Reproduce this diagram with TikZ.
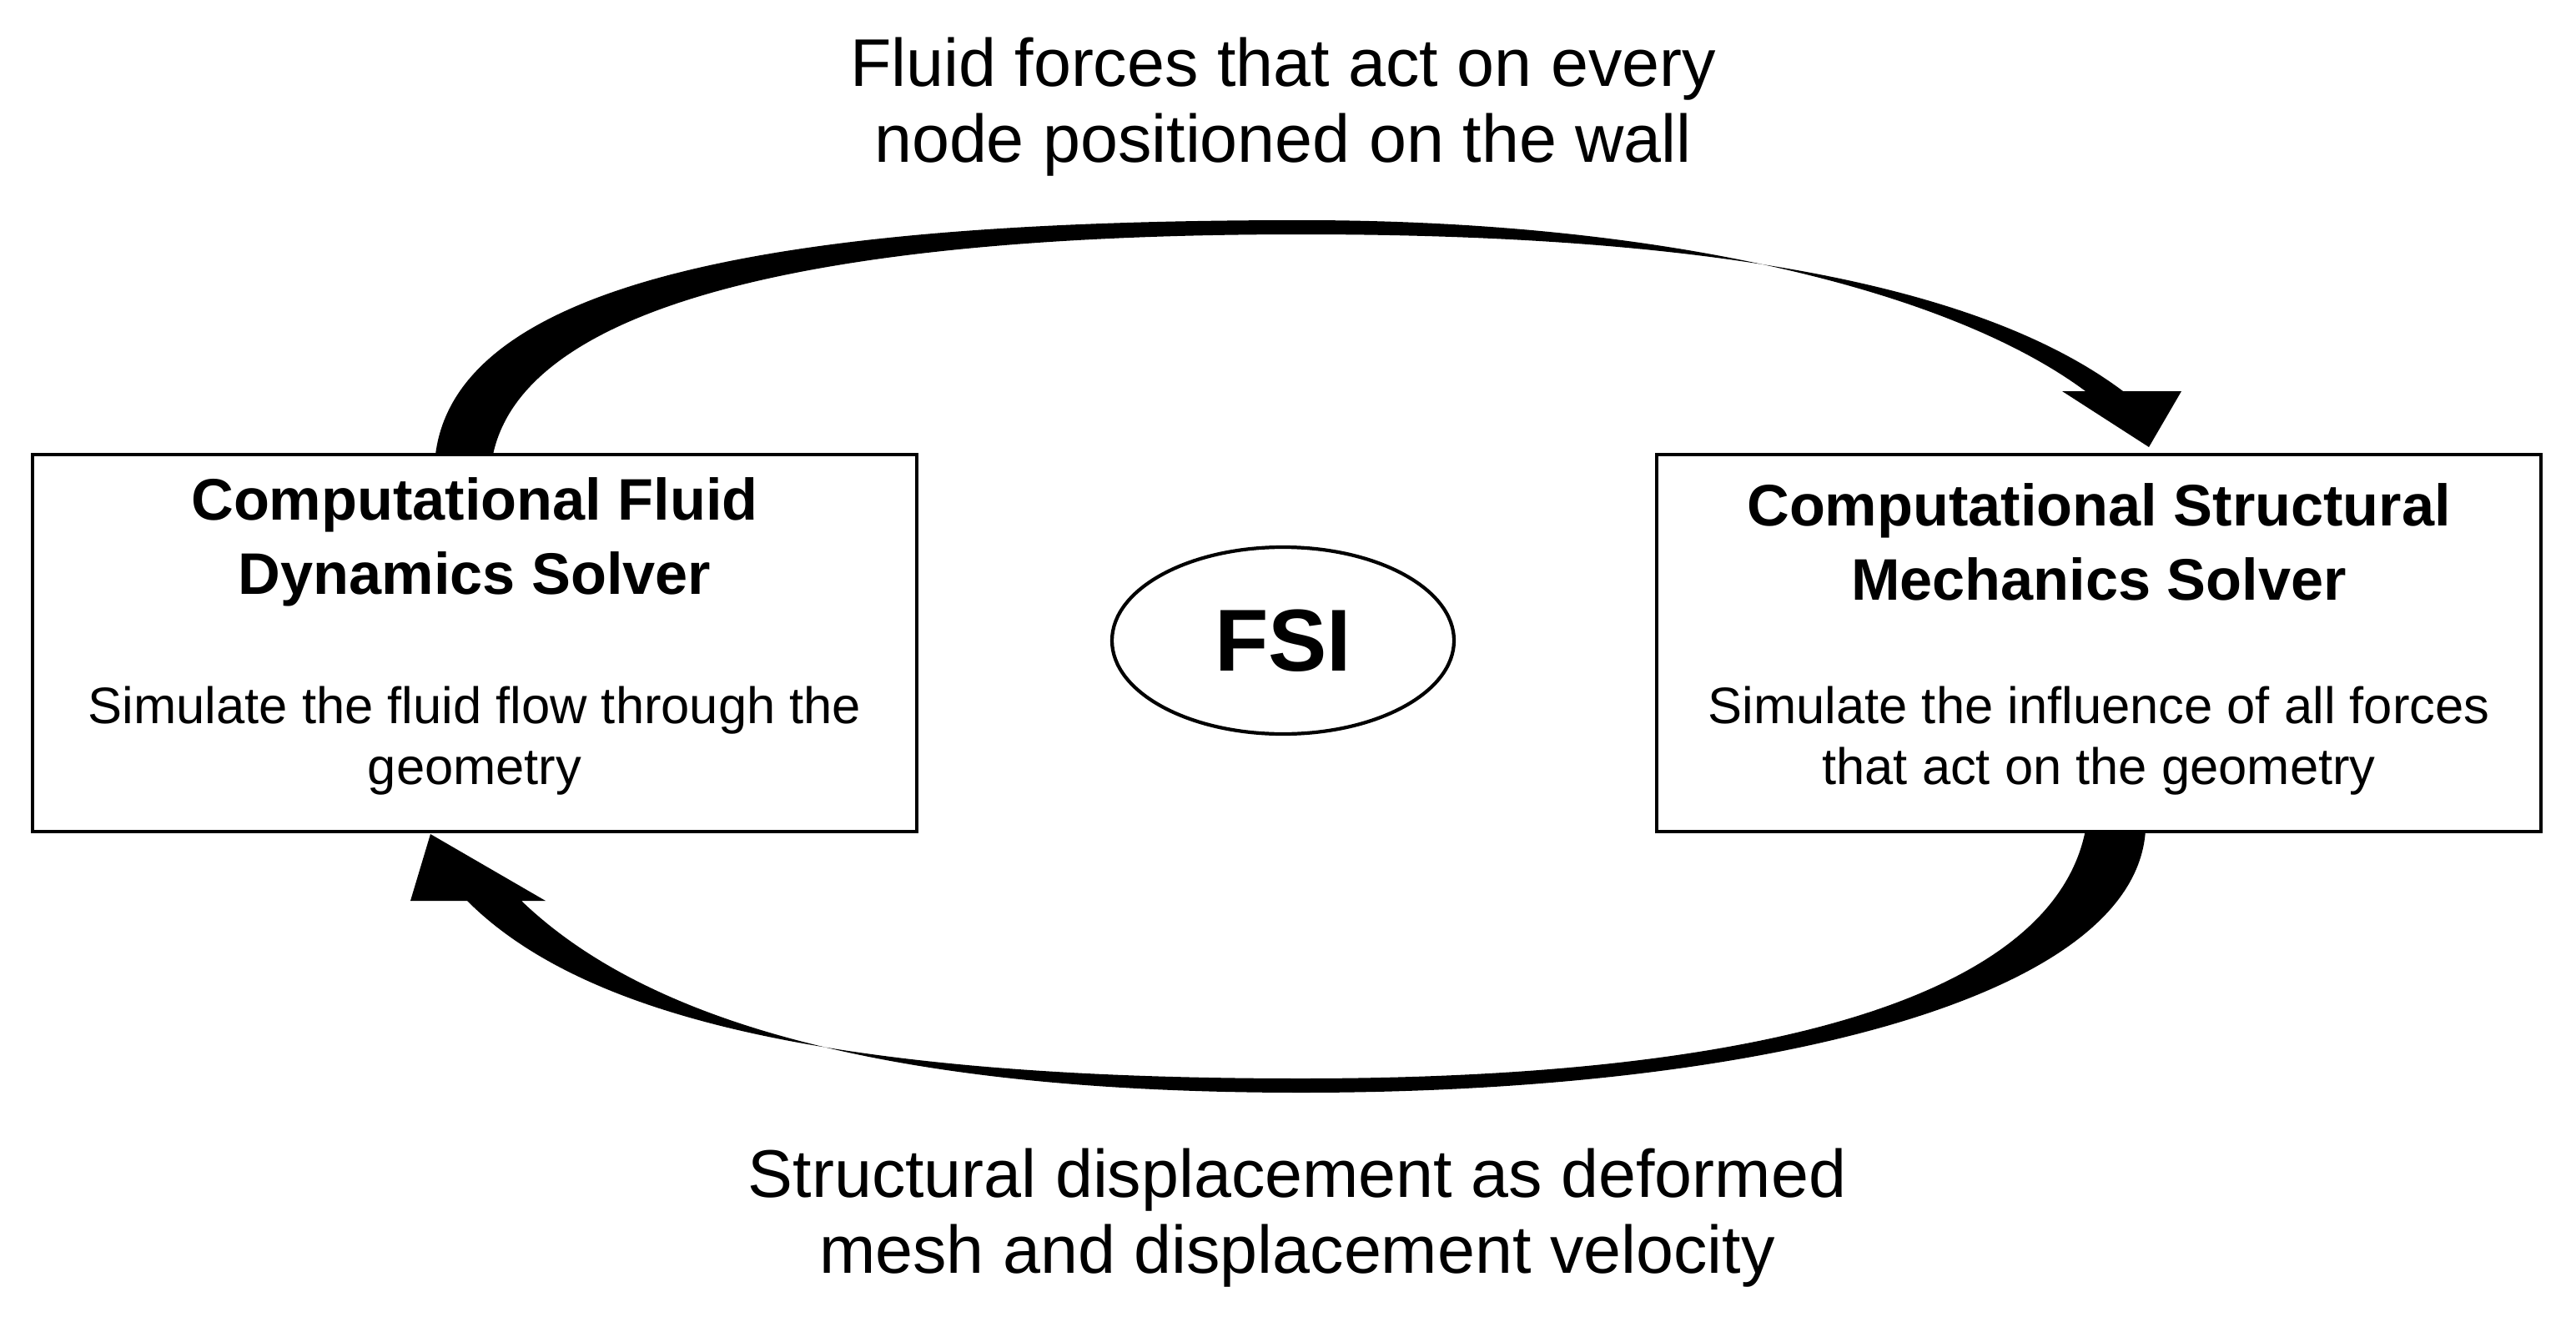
\documentclass[tikz,border=0pt]{standalone}
\usepackage{fontspec}
\setmainfont{Liberation Sans}
\usetikzlibrary{shapes.geometric}
\begin{document}
\begin{tikzpicture}
  \tikzset{
    box/.style={draw, line width=1.2pt, minimum width=10.6cm, minimum height=4.52cm},
    lbl/.style={align=center, font=\fontsize{23}{25.8}\selectfont},
    ttl/.style={align=center, font=\fontsize{20}{25.3}\bfseries\selectfont},
    body/.style={align=center, font=\fontsize{17.5}{20.7}\selectfont},
  }
  \useasboundingbox (0,0) rectangle (30.88,-15.79);

  \node[box] (cfd) at (5.69,-7.71) {};
  \node[box] (csm) at (25.16,-7.71) {};
  \node[ttl] (cfdt) at (5.69,-6.5) {Computational Fluid\\Dynamics Solver};
  \node[body] (cfdb) at (5.69,-8.88) {Simulate the fluid flow through the\\geometry};
  \node[ttl] (csmt) at (25.16,-6.5) {Computational Structural\\Mechanics Solver};
  \node[body] (csmb) at (25.16,-8.88) {Simulate the influence of all forces\\that act on the geometry};

  \node[draw, ellipse, line width=1.2pt, minimum width=4.1cm, minimum height=2.24cm,
        font=\fontsize{30}{30}\bfseries\selectfont] (fsi) at (15.38,-7.68) {FSI};

  \node[lbl] (top) at (15.38,-1.28) {Fluid forces that act on every\\node positioned on the wall};
  \node[lbl] (bot) at (15.55,-14.6) {Structural displacement as deformed\\mesh and displacement velocity};

  % top tapered arrow
  \fill (5.22,-5.45) .. controls (5.5,-3.2) and (10,-2.64) .. (15.6,-2.64)
        .. controls (20,-2.64) and (23.4,-3.5) .. (25.0,-4.69)
        -- (24.72,-4.69) -- (25.76,-5.36) -- (26.15,-4.69) -- (25.45,-4.69)
        .. controls (23.6,-3.3) and (20,-2.81) .. (15.6,-2.81)
        .. controls (10,-2.81) and (6.3,-3.6) .. (5.91,-5.45) -- cycle;

  % bottom tapered arrow
  \fill (25.72,-9.95) .. controls (25.6,-12) and (21,-13.1) .. (15.6,-13.1)
        .. controls (10,-13.1) and (7.5,-12) .. (6.25,-10.8)
        -- (6.54,-10.8) -- (5.16,-10.0) -- (4.92,-10.8) -- (5.6,-10.8)
        .. controls (7,-12.2) and (10,-12.93) .. (15.6,-12.93)
        .. controls (21,-12.93) and (24.6,-12) .. (25.0,-9.95) -- cycle;
\end{tikzpicture}
\end{document}
